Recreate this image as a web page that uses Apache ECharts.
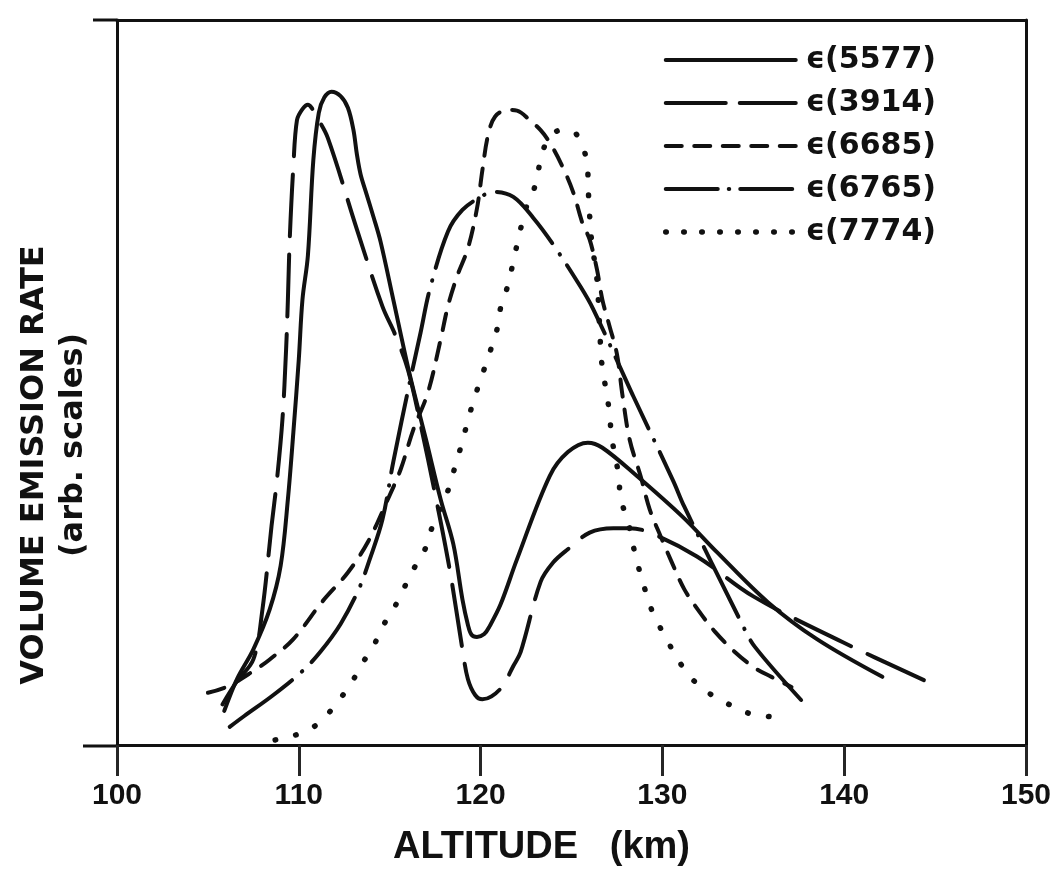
<!DOCTYPE html>
<html>
<head>
<meta charset="utf-8">
<script src="https://cdn.jsdelivr.net/npm/echarts/dist/echarts.min.js"></script>
<style>
html,body{margin:0;padding:0;background:#fff;}
#chart{width:1061px;height:872px;}
</style>
</head>
<body>
<div id="chart"></div>
<script>
// ---- data ----
const xTicks = [100, 110, 120, 130, 140, 150];
const seriesNames = ['ϵ(5577)', 'ϵ(3914)', 'ϵ(6685)', 'ϵ(6765)', 'ϵ(7774)'];

const alt5577 = [105.9,106.6,107.5,108.4,109.0,109.4,109.7,110.0,110.2,110.5,110.8,111.1,111.4,111.8,112.3,112.7,113.0,113.2,113.4,113.7,114.1,114.5,115.2,116.1,117.0,117.8,118.5,119.0,119.3,119.5,119.8,120.2,120.5,121.1,122.0,123.8,124.8,125.9,126.7,128.6,131.1,133.0,135.8,138.5,142.1];
const rate5577 = [4.7,9.1,13.2,18.7,24.7,33.9,43.1,53.2,61.4,67.5,80.7,87.2,89.3,90.1,89.5,87.9,84.9,81.4,78.7,76.2,72.9,69.4,61.4,51.1,42.1,33.9,27.7,20.1,16.6,15.2,14.9,15.3,16.4,19.4,25.6,37.1,40.4,41.7,41.0,37.1,31.5,26.6,19.7,14.6,9.4];

const alt3914 = [105.8,106.6,107.5,108.0,108.5,108.8,109.1,109.3,109.4,109.5,109.7,109.9,110.2,110.5,110.7,111.0,111.6,113.2,114.6,115.3,116.0,116.7,117.5,118.3,119.0,119.3,119.7,120.1,120.6,121.2,121.8,122.2,123.3,124.0,124.8,126.0,127.3,128.2,129.3,131.9,135.0,139.9,144.6];
const rate3914 = [5.6,8.8,11.8,18.7,30.2,36.6,44.9,54.5,61.4,69.7,79.8,86.2,87.7,88.3,87.9,86.6,83.7,71.1,60.5,56.6,51.8,44.2,34.6,24.2,13.2,9.1,6.9,6.3,6.7,8.1,10.9,12.8,22.5,25.2,27.0,29.3,29.9,29.9,29.3,26.0,20.5,14.2,8.7];

const alt6685 = [105.0,106.1,107.5,108.4,109.7,111.3,112.7,113.8,114.9,115.6,116.3,117.1,117.8,118.2,118.7,119.3,119.8,120.1,120.4,120.8,121.5,122.0,122.7,123.3,123.8,124.5,125.1,125.6,126.0,126.4,126.7,127.1,127.5,127.8,128.2,128.8,129.3,129.9,130.5,131.2,132.0,132.9,134.0,135.1,136.0,137.1];
const rate6685 = [7.2,8.1,10.2,11.8,14.6,19.8,23.8,28.0,33.9,38.0,43.5,48.6,55.9,60.5,64.6,68.5,74.0,79.3,84.0,86.7,87.6,87.5,86.2,84.8,83.1,79.8,76.2,72.0,69.7,65.6,61.4,57.7,53.9,48.3,42.1,37.1,32.5,28.8,25.3,21.5,18.5,15.6,12.8,10.6,9.4,8.0];

const alt6765 = [106.2,107.0,108.6,110.2,111.2,112.3,113.3,113.9,114.6,115.2,116.1,116.7,117.2,118.2,119.0,120.0,120.7,121.8,122.9,124.0,125.5,126.2,127.8,128.4,130.6,131.2,134.3,135.1,138.0];
const rate6765 = [2.5,4.0,6.9,10.2,12.9,16.7,21.5,25.6,31.1,39.1,50.0,56.9,62.8,70.8,73.8,75.6,76.3,75.6,72.7,69.0,63.2,60.1,51.4,48.1,36.4,32.9,17.1,13.5,5.2];

const alt7774 = [108.7,109.6,110.7,111.6,112.2,112.8,113.4,114.1,114.6,115.2,115.7,116.3,117.0,117.3,118.3,118.6,118.9,119.2,119.6,120.0,120.5,120.9,121.1,121.5,121.8,122.1,122.3,122.5,122.8,123.1,123.3,123.7,124.4,125.1,125.6,125.85,125.95,126.1,126.4,126.6,126.7,126.9,127.1,127.2,127.6,127.7,128.1,128.4,128.7,129.0,129.4,129.9,130.4,130.9,131.5,132.3,133.3,134.4,135.2,136.1];
const rate7774 = [0.7,1.2,2.3,4.3,6.2,8.1,10.9,13.6,16.3,18.7,21.2,24.2,27.3,29.8,35.7,38.5,41.0,43.8,47.4,50.4,54.1,57.3,60.3,63.4,66.7,70.1,72.2,74.1,75.6,78.2,80.7,83.5,84.8,84.6,82.5,80.4,75.2,69.7,64.2,55.0,51.9,49.0,45.6,42.6,37.1,34.0,30.9,27.4,24.4,21.8,18.7,16.1,13.8,11.6,9.5,7.6,6.1,4.7,4.1,3.9];

// ---- chart construction ----
const FONT = '"Liberation Sans", "DejaVu Sans", Arial, sans-serif';
const FONT2 = '"DejaVu Sans", "Liberation Sans", sans-serif';
const INK = '#111';
const TICK_INK = '#262626';
const pairs = (xs, ys) => xs.map((x, i) => [x, ys[i]]);
const allData = [
  pairs(alt5577, rate5577),
  pairs(alt3914, rate3914),
  pairs(alt6685, rate6685),
  pairs(alt6765, rate6765),
  pairs(alt7774, rate7774)
];
const lineTypes = [
  {type: 'solid', width: 4},
  {type: [62, 18], width: 4},
  {type: [17, 13], width: 4},
  {type: [78, 13, 0.5, 13], width: 4},
  {type: [0.5, 20.5], width: 5.5}
];
const legendTypes = [
  {type: 'solid', width: 4},
  {type: [60, 14], width: 4},
  {type: [16, 12.5], width: 4},
  {type: [52, 11, 0.5, 11], width: 4},
  {type: [0.5, 17.5], width: 5.5}
];

const chart = echarts.init(document.getElementById('chart'));

const series = seriesNames.map((name, i) => ({
  name: name,
  type: 'line',
  data: allData[i],
  smooth: 0.35,
  symbol: 'none',
  silent: true,
  z: 5,
  lineStyle: {color: INK, width: lineTypes[i].width, type: lineTypes[i].type, cap: 'round', join: 'round'}
}));

const TICK_LEN = 31;

const option = {
  animation: false,
  backgroundColor: '#fff',
  grid: {left: 117, right: 35, top: 20, bottom: 126},
  legend: {
    orient: 'vertical',
    left: 658,
    top: 40,
    itemWidth: 130,
    itemHeight: 12,
    itemGap: 13,
    selectedMode: false,
    data: seriesNames.map((n, i) => ({
      name: n,
      lineStyle: {color: INK, width: legendTypes[i].width, type: legendTypes[i].type, cap: 'round'}
    })),
    itemStyle: {opacity: 0},
    textStyle: {fontFamily: FONT2, fontWeight: 'bold', fontSize: 30, color: INK, lineHeight: 30, padding: [0, 0, 0, 5]}
  },
  xAxis: [{
    type: 'value',
    position: 'bottom',
    min: xTicks[0],
    max: xTicks[xTicks.length - 1],
    interval: xTicks[1] - xTicks[0],
    axisLine: {show: true, onZero: false, lineStyle: {color: INK, width: 3}},
    axisTick: {show: true, inside: false, length: TICK_LEN, lineStyle: {color: TICK_INK, width: 3}},
    axisLabel: {color: INK, fontFamily: FONT, fontWeight: 'bold', fontSize: 30, margin: 36},
    splitLine: {show: false},
    name: 'ALTITUDE   (km)',
    nameLocation: 'middle',
    nameGap: 84,
    nameTextStyle: {color: INK, fontFamily: FONT, fontWeight: 'bold', fontSize: 38, padding: [0, 60, 0, 0]}
  }, {
    type: 'value',
    position: 'top',
    min: xTicks[0],
    max: xTicks[xTicks.length - 1],
    axisLine: {show: true, onZero: false, lineStyle: {color: INK, width: 3}},
    axisTick: {show: false},
    axisLabel: {show: false},
    splitLine: {show: false}
  }],
  yAxis: [{
    type: 'value',
    position: 'left',
    min: 0,
    max: 100,
    axisLine: {show: true, onZero: false, lineStyle: {color: INK, width: 3}},
    axisTick: {show: false},
    axisLabel: {show: false},
    splitLine: {show: false}
  }, {
    type: 'value',
    position: 'right',
    min: 0,
    max: 100,
    axisLine: {show: true, onZero: false, lineStyle: {color: INK, width: 3}},
    axisTick: {show: false},
    axisLabel: {show: false},
    splitLine: {show: false}
  }],
  graphic: [
    {type: 'line', shape: {x1: 83, y1: 746, x2: 117, y2: 746}, style: {stroke: INK, lineWidth: 3}, silent: true},
    {type: 'line', shape: {x1: 93, y1: 20, x2: 117, y2: 20}, style: {stroke: INK, lineWidth: 3}, silent: true},
    {type: 'text', x: 35, y: 465, rotation: Math.PI / 2,
      style: {text: 'VOLUME EMISSION RATE', font: 'bold 32px ' + FONT2, fill: INK, textAlign: 'center', textVerticalAlign: 'middle'}, silent: true},
    {type: 'text', x: 74, y: 445, rotation: Math.PI / 2,
      style: {text: '(arb. scales)', font: 'bold 32px ' + FONT2, fill: INK, textAlign: 'center', textVerticalAlign: 'middle'}, silent: true}
  ],
  series: series
};

chart.setOption(option);
</script>
</body>
</html>
